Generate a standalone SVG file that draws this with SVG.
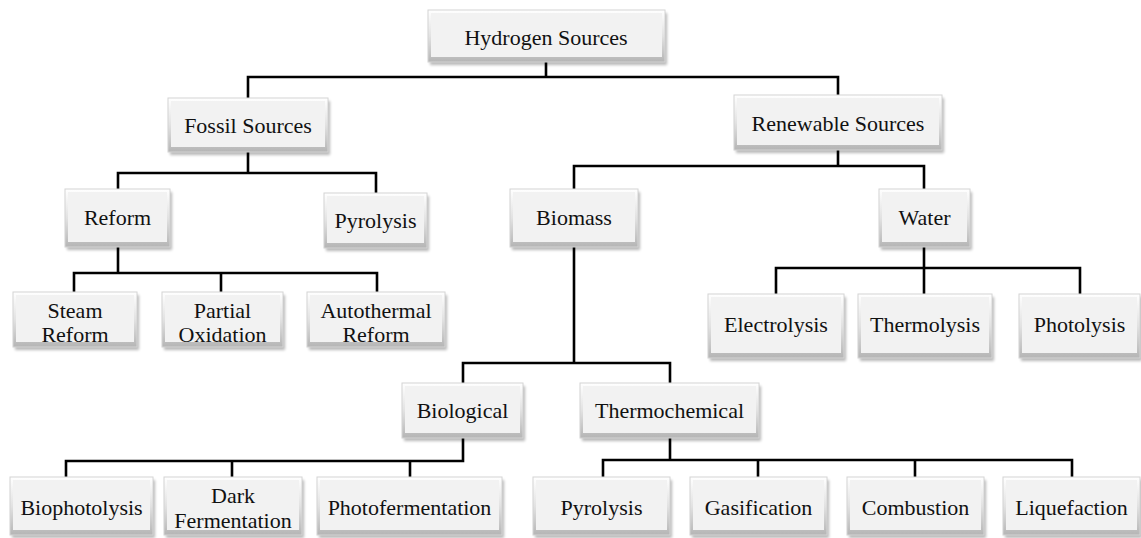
<svg xmlns="http://www.w3.org/2000/svg" width="1141" height="538" viewBox="0 0 1141 538" font-family="'Liberation Serif', serif">
<style>
.sh{fill:#000;opacity:.28;filter:url(#blur)}
.o{fill:url(#edge);stroke:#d4d4d4;stroke-width:1}
.i{fill:#f2f2f2}
.t{font-family:'Liberation Serif','Times New Roman',Times,serif;font-size:22px;fill:#111;text-anchor:middle}
.c{fill:none;stroke:#000;stroke-width:2.6;stroke-linecap:square}
</style>
<defs>
<filter id="blur" x="-10%" y="-20%" width="120%" height="140%"><feGaussianBlur stdDeviation="1.6"/></filter>
<linearGradient id="edge" x1="0" y1="0" x2="0" y2="1"><stop offset="0" stop-color="#ffffff"/><stop offset="0.5" stop-color="#e2e2e2"/><stop offset="1" stop-color="#b5b5b5"/></linearGradient>
</defs>
<rect width="1141" height="538" fill="#fff"/>
<g id="connectors">
<path class="c" d="M546 62V77M248 77H838M248 77V98M838 77V95"/>
<path class="c" d="M248 152V173M118 173H376M118 173V189M376 173V193"/>
<path class="c" d="M118 247V273M74 273H377M74 273V292M221 273V292M377 273V292"/>
<path class="c" d="M838 150V166M574 166H924M574 166V189M924 166V189"/>
<path class="c" d="M924 247V268M776 268H1080M776 268V294M924 268V294M1080 268V294"/>
<path class="c" d="M574 247V363M463 363H670M463 363V383M670 363V383"/>
<path class="c" d="M463 438V461M66 461H463M66 461V477M232 461V477M410 461V477"/>
<path class="c" d="M670 438V460M603 460H1072M603 460V477M758 460V477M915 460V477M1072 460V477"/>
</g>
<g id="n-hydrogen"><rect class="sh" x="430" y="13" width="237" height="52"/><rect class="o" x="428" y="10" width="237" height="52"/><rect class="i" x="431" y="13" width="231" height="44"/><text class="t" x="546" y="45">Hydrogen Sources</text></g>
<g id="n-fossil"><rect class="sh" x="170" y="101" width="160" height="54"/><rect class="o" x="168" y="98" width="160" height="54"/><rect class="i" x="171" y="101" width="154" height="46"/><text class="t" x="248" y="133">Fossil Sources</text></g>
<g id="n-renewable"><rect class="sh" x="736" y="98" width="208" height="55"/><rect class="o" x="734" y="95" width="208" height="55"/><rect class="i" x="737" y="98" width="202" height="47"/><text class="t" x="838" y="131">Renewable Sources</text></g>
<g id="n-reform"><rect class="sh" x="67" y="192" width="105" height="58"/><rect class="o" x="65" y="189" width="105" height="58"/><rect class="i" x="68" y="192" width="99" height="50"/><text class="t" x="117.5" y="225">Reform</text></g>
<g id="n-pyrolysis1"><rect class="sh" x="326" y="196" width="103" height="55"/><rect class="o" x="324" y="193" width="103" height="55"/><rect class="i" x="327" y="196" width="97" height="47"/><text class="t" x="375.5" y="228">Pyrolysis</text></g>
<g id="n-biomass"><rect class="sh" x="512" y="192" width="128" height="58"/><rect class="o" x="510" y="189" width="128" height="58"/><rect class="i" x="513" y="192" width="122" height="50"/><text class="t" x="574" y="225">Biomass</text></g>
<g id="n-water"><rect class="sh" x="881" y="192" width="91" height="58"/><rect class="o" x="879" y="189" width="91" height="58"/><rect class="i" x="882" y="192" width="85" height="50"/><text class="t" x="924.5" y="225">Water</text></g>
<g id="n-steam"><rect class="sh" x="15" y="295" width="124" height="55"/><rect class="o" x="13" y="292" width="124" height="55"/><rect class="i" x="16" y="295" width="118" height="47"/><text class="t" x="75" y="318">Steam</text><text class="t" x="75" y="342">Reform</text></g>
<g id="n-partial"><rect class="sh" x="164" y="295" width="121" height="55"/><rect class="o" x="162" y="292" width="121" height="55"/><rect class="i" x="165" y="295" width="115" height="47"/><text class="t" x="222.5" y="318">Partial</text><text class="t" x="222.5" y="342">Oxidation</text></g>
<g id="n-autothermal"><rect class="sh" x="309" y="295" width="138" height="55"/><rect class="o" x="307" y="292" width="138" height="55"/><rect class="i" x="310" y="295" width="132" height="47"/><text class="t" x="376" y="318">Autothermal</text><text class="t" x="376" y="342">Reform</text></g>
<g id="n-electrolysis"><rect class="sh" x="710" y="297" width="136" height="64"/><rect class="o" x="708" y="294" width="136" height="64"/><rect class="i" x="711" y="297" width="130" height="56"/><text class="t" x="776" y="332">Electrolysis</text></g>
<g id="n-thermolysis"><rect class="sh" x="860" y="297" width="134" height="64"/><rect class="o" x="858" y="294" width="134" height="64"/><rect class="i" x="861" y="297" width="128" height="56"/><text class="t" x="925" y="332">Thermolysis</text></g>
<g id="n-photolysis"><rect class="sh" x="1021" y="297" width="121" height="64"/><rect class="o" x="1019" y="294" width="121" height="64"/><rect class="i" x="1022" y="297" width="115" height="56"/><text class="t" x="1079.5" y="332">Photolysis</text></g>
<g id="n-biological"><rect class="sh" x="404" y="386" width="121" height="55"/><rect class="o" x="402" y="383" width="121" height="55"/><rect class="i" x="405" y="386" width="115" height="47"/><text class="t" x="462.5" y="418">Biological</text></g>
<g id="n-thermochemical"><rect class="sh" x="582" y="386" width="179" height="55"/><rect class="o" x="580" y="383" width="179" height="55"/><rect class="i" x="583" y="386" width="173" height="47"/><text class="t" x="669.5" y="418">Thermochemical</text></g>
<g id="n-biophotolysis"><rect class="sh" x="12" y="480" width="143" height="58"/><rect class="o" x="10" y="477" width="143" height="58"/><rect class="i" x="13" y="480" width="137" height="50"/><text class="t" x="81.5" y="515">Biophotolysis</text></g>
<g id="n-dark"><rect class="sh" x="166" y="480" width="138" height="58"/><rect class="o" x="164" y="477" width="138" height="58"/><rect class="i" x="167" y="480" width="132" height="50"/><text class="t" x="233" y="503">Dark</text><text class="t" x="233" y="528">Fermentation</text></g>
<g id="n-photofermentation"><rect class="sh" x="319" y="480" width="185" height="58"/><rect class="o" x="317" y="477" width="185" height="58"/><rect class="i" x="320" y="480" width="179" height="50"/><text class="t" x="409.5" y="515">Photofermentation</text></g>
<g id="n-pyrolysis2"><rect class="sh" x="535" y="480" width="137" height="58"/><rect class="o" x="533" y="477" width="137" height="58"/><rect class="i" x="536" y="480" width="131" height="50"/><text class="t" x="601.5" y="515">Pyrolysis</text></g>
<g id="n-gasification"><rect class="sh" x="692" y="480" width="137" height="58"/><rect class="o" x="690" y="477" width="137" height="58"/><rect class="i" x="693" y="480" width="131" height="50"/><text class="t" x="758.5" y="515">Gasification</text></g>
<g id="n-combustion"><rect class="sh" x="849" y="480" width="137" height="58"/><rect class="o" x="847" y="477" width="137" height="58"/><rect class="i" x="850" y="480" width="131" height="50"/><text class="t" x="915.5" y="515">Combustion</text></g>
<g id="n-liquefaction"><rect class="sh" x="1005" y="480" width="137" height="58"/><rect class="o" x="1003" y="477" width="137" height="58"/><rect class="i" x="1006" y="480" width="131" height="50"/><text class="t" x="1071.5" y="515">Liquefaction</text></g>
</svg>
